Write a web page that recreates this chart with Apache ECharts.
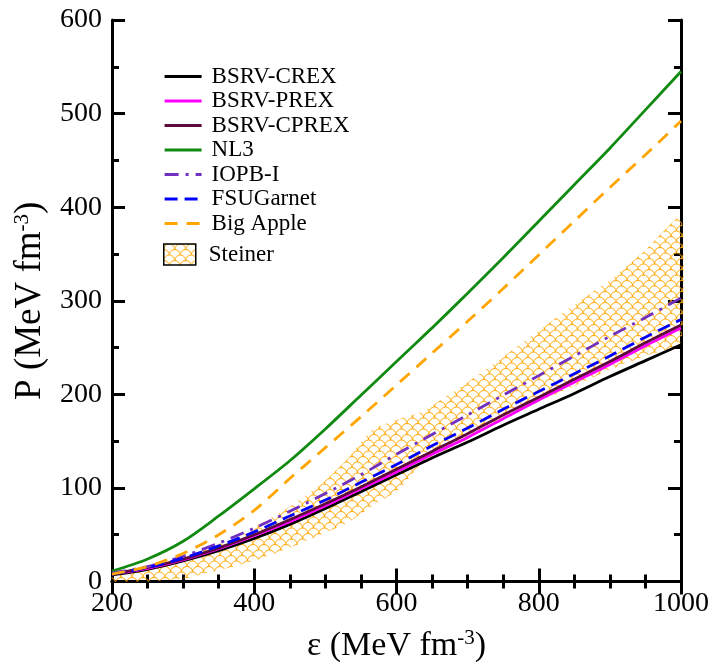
<!DOCTYPE html>
<html>
<head>
<meta charset="utf-8">
<script src="https://cdn.jsdelivr.net/npm/echarts@6/dist/echarts.min.js"></script>
<style>html,body{margin:0;padding:0;background:#fff;}#c{width:713px;height:668px;}</style>
</head>
<body>
<div id="c"></div>
<script>
// ---- data ----
const eps = [200,250,300,350,400,450,500,550,600,650,700,750,800,850,900,950,1000];
const bsrvCrex  = [7,13,22,33,46,61,78,96,114,132,149,167,184,201,219,236,253];
const bsrvPrex  = [8,14,23,35,49,64,81,99,117,136,154,174,194,213,232,252,271];
const bsrvCprex = [8,15,24,36,50,66,83,101,120,139,158,178,197,216,235,255,274];
const nl3       = [11,24,43,70,99,129,163,199,235,271,308,346,385,424,463,504,545];
const iopb      = [9,16,27,41,57,75,94,114,136,157,178,199,220,241,262,282,303];
const fsuGarnet = [8,15,25,38,53,70,87,106,125,145,164,184,203,222,241,261,280];
const bigApple  = [8,16,30,50,76,110,143,176,210,244,278,313,349,385,421,456,492];

const steinerEps   = [200,250,300,350,400,450,500,530,565,605,635,700,750,800,850,900,950,1000];
const steinerUpper = [5,13,25,40,58,80,108,130,162,174,181,213,240,268,296,322,354,390];
const steinerLower = [0,0,3,12,22,36,52,62,80,99,126,152,173,192,209,226,241,256];

const xTicks = [200,400,600,800,1000];
const yTicks = [0,100,200,300,400,500,600];

// ---- pattern (fish scales) ----
function makePattern(){
  const r = 5.5;
  const c = document.createElement('canvas');
  c.width = 11; c.height = 11;
  const g = c.getContext('2d');
  g.strokeStyle = '#ffa500';
  g.lineWidth = 1;
  const arc = (cx, cy) => { g.beginPath(); g.arc(cx, cy, r, Math.PI, 2*Math.PI); g.stroke(); };
  arc(5.5, 5.5); arc(0, 11); arc(11, 11); arc(5.5, 16.5);
  return c;
}
const pat = {image: makePattern(), repeat: 'repeat'};

const serif = 'Liberation Serif';
const chart = echarts.init(document.getElementById('c'), null, {renderer: 'canvas'});

function lineSeries(name, data, color, type){
  return {
    name, type: 'line', data: eps.map((e,i)=>[e, data[i]]),
    symbol: 'none', smooth: 0.3, z: 3,
    lineStyle: {color, width: 2.8, type: type || 'solid'},
    itemStyle: {color}
  };
}

const band = {
  name: 'Steiner', type: 'custom', z: 1,
  data: [0],
  itemStyle: {color: pat, borderColor: '#000', borderWidth: 1},
  renderItem: function(params, api){
    const pts = [];
    for (let i = 0; i < steinerEps.length; i++) pts.push(api.coord([steinerEps[i], steinerUpper[i]]));
    for (let i = steinerEps.length - 1; i >= 0; i--) pts.push(api.coord([steinerEps[i], steinerLower[i]]));
    return {type: 'polygon', shape: {points: pts, smooth: 0.15}, style: {fill: pat, stroke: null}};
  }
};

const axisLine = {show: true, lineStyle: {color: '#000', width: 3}};
const axisTick = {show: true, inside: true, length: 13, lineStyle: {color: '#000', width: 3}};
const supRich = {sup: {fontSize: 21, fontFamily: serif, color: '#000', verticalAlign: 'top', padding: [0,0,16,0]}};

chart.setOption({
  animation: false,
  backgroundColor: '#fff',
  grid: {left: 112, right: 32, top: 20, bottom: 77},
  xAxis: [
    {
      type: 'value', min: 200, max: 1000, interval: 200, position: 'bottom',
      axisLine, axisTick, splitLine: {show: false},
      minorTick: {show: true, splitNumber: 4, length: 7, lineStyle: {color: '#000', width: 3}},
      axisLabel: {color: '#000', fontFamily: serif, fontSize: 28, margin: 8,
        formatter: v => xTicks.includes(v) ? String(v) : ''},
      name: 'ε (MeV fm{sup|-3})', nameLocation: 'middle', nameGap: 46,
      nameTextStyle: {color: '#000', fontFamily: serif, fontSize: 34, rich: supRich}
    },
    {
      type: 'value', min: 200, max: 1000, interval: 200, position: 'top',
      axisLine, axisTick,
      minorTick: {show: true, splitNumber: 4, length: 7, lineStyle: {color: '#000', width: 3}},
      axisLabel: {show: false}, splitLine: {show: false}
    }
  ],
  yAxis: [
    {
      type: 'value', min: 0, max: 600, interval: 100, position: 'left',
      axisLine, axisTick, splitLine: {show: false},
      minorTick: {show: true, splitNumber: 2, length: 7, lineStyle: {color: '#000', width: 3}},
      axisLabel: {color: '#000', fontFamily: serif, fontSize: 28, margin: 10,
        formatter: v => yTicks.includes(v) ? String(v) : ''},
      name: 'P (MeV fm{sup|-3})', nameLocation: 'middle', nameGap: 62, nameRotate: 90,
      nameTextStyle: {color: '#000', fontFamily: serif, fontSize: 37, rich: supRich}
    },
    {
      type: 'value', min: 0, max: 600, interval: 100, position: 'right',
      axisLine, axisTick,
      minorTick: {show: true, splitNumber: 2, length: 7, lineStyle: {color: '#000', width: 3}},
      axisLabel: {show: false}, splitLine: {show: false}
    }
  ],
  legend: [
    {
      orient: 'vertical', left: 163, top: 65, padding: 0, itemWidth: 37, itemHeight: 14, itemGap: 1.5,
      itemStyle: {opacity: 0},
      lineStyle: {width: 3.2},
      textStyle: {color: '#000', fontFamily: serif, fontSize: 23, lineHeight: 23, padding: [0,0,0,5]},
      data: ['BSRV-CREX','BSRV-PREX','BSRV-CPREX','NL3','IOPB-I','FSUGarnet','Big Apple'],
      selectedMode: false
    },
    {
      orient: 'vertical', left: 163, top: 243, padding: 0, itemWidth: 32, itemHeight: 21,
      textStyle: {color: '#000', fontFamily: serif, fontSize: 23, padding: [0,0,0,8]},
      data: [{name: 'Steiner', icon: 'rect', itemStyle: {color: pat, borderColor: '#000', borderWidth: 1.5}}],
      selectedMode: false
    }
  ],
  series: [
    band,
    lineSeries('BSRV-CREX', bsrvCrex, '#000000'),
    lineSeries('BSRV-PREX', bsrvPrex, '#ff00ff'),
    lineSeries('BSRV-CPREX', bsrvCprex, '#5c0a3c'),
    lineSeries('NL3', nl3, '#108a10'),
    lineSeries('IOPB-I', iopb, '#7030c0', [14,7,3,7]),
    lineSeries('FSUGarnet', fsuGarnet, '#0000ff', [13,7]),
    lineSeries('Big Apple', bigApple, '#ffa500', [13,9])
  ]
});
</script>
</body>
</html>
